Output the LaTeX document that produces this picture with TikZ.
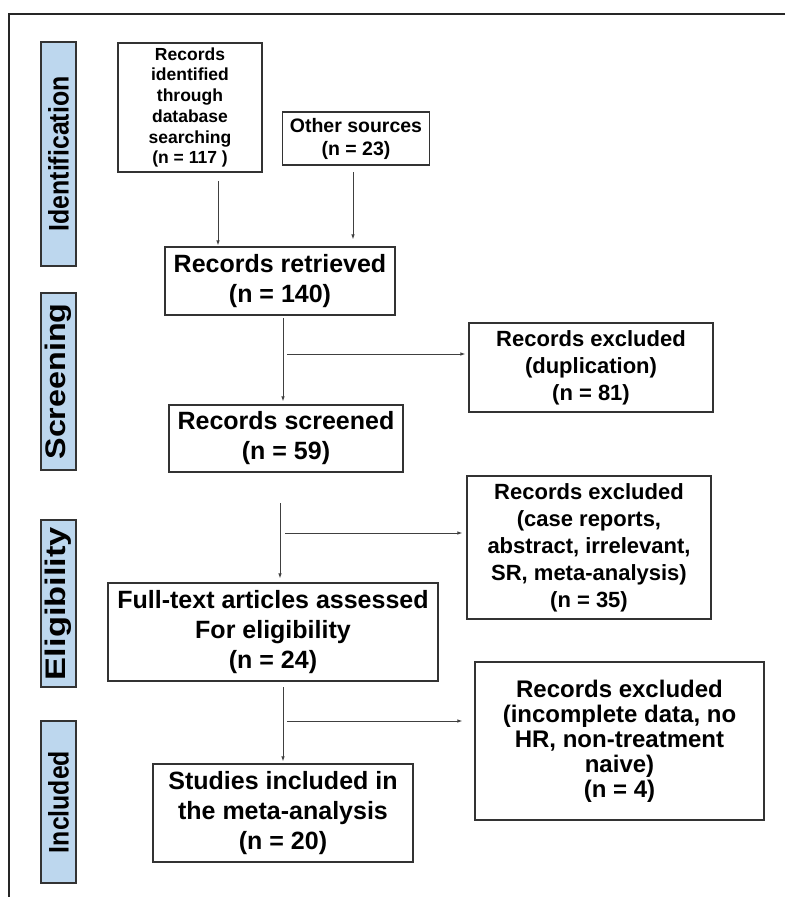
\documentclass[tikz,border=0pt]{standalone}
\usepackage{fontspec}
\setmainfont{Liberation Sans}
\usepackage{graphicx}
\usetikzlibrary{arrows.meta,calc}
\definecolor{barblue}{RGB}{189,215,238}
\newcommand{\barlabel}[2]{\resizebox{#1}{20.5pt}{#2}}
\tikzset{
  x=1pt, y=-1pt,
  flowbox/.style = {draw=black!80, line width=1.1pt, align=center, inner sep=0pt, text centered},
  txt_s/.style = {font=\bfseries\fontsize{17.5}{20.7}\selectfont},
  txt_m/.style = {font=\bfseries\fontsize{19.5}{23}\selectfont},
  txt_x/.style = {font=\bfseries\fontsize{22}{27}\selectfont},
  txt_l/.style = {font=\bfseries\fontsize{25}{30}\selectfont},
  txt_n/.style = {font=\bfseries\fontsize{24}{25}\selectfont},
  side_bar/.style = {draw=black!80, line width=1.1pt, fill=barblue, inner sep=0pt, minimum height=35pt, rotate=90, font=\bfseries},
  arr/.style = {-{Latex[length=5pt,width=3.5pt]}, line width=0.9pt, draw=black!75}
}

\begin{document}
\begin{tikzpicture}
	\useasboundingbox (0,0) rectangle (785,897);
	\draw[line width=1.2pt, black!85] (785,14) -- (9,14) -- (9,897);

	\node[side_bar, minimum width=224pt] (lab_id)  at (58.5,154)   {\barlabel{155pt}{Identification}};
	\node[side_bar, minimum width=177pt] (lab_scr) at (58.5,381.5) {\barlabel{156pt}{Screening}};
	\node[side_bar, minimum width=167pt] (lab_el)  at (58.5,603.5) {\barlabel{153pt}{Eligibility}};
	\node[side_bar, minimum width=162pt] (lab_in)  at (58.5,802)   {\barlabel{102pt}{Included}};

	\node[flowbox, txt_s, minimum width=144pt, minimum height=129pt] (db) at (190,107.5)
		{Records\\identified\\through\\database\\searching\\(n = 117 )};
	\node[flowbox, txt_m, minimum width=147pt, minimum height=53pt] (other) at (356,138.5)
		{Other sources\\(n = 23)};
	\node[flowbox, txt_l, minimum width=230pt, minimum height=68pt] (retr) at (280,281)
		{Records retrieved\\(n = 140)};
	\node[flowbox, txt_x, minimum width=244pt, minimum height=89pt] (excl_dup) at (591,367.5)
		{Records excluded\\(duplication)\\(n = 81)};
	\node[flowbox, txt_l, minimum width=234pt, minimum height=67pt] (scr) at (286,438.5)
		{Records screened\\(n = 59)};
	\node[flowbox, txt_x, minimum width=244pt, minimum height=143pt] (excl_case) at (589,547.5)
		{Records excluded\\(case reports,\\abstract, irrelevant,\\SR, meta-analysis)\\(n = 35)};
	\node[flowbox, txt_l, minimum width=330pt, minimum height=98pt] (full) at (273,632)
		{Full-text articles assessed\\For eligibility\\(n = 24)};
	\node[flowbox, txt_n, minimum width=289pt, minimum height=158pt] (excl_data) at (619.5,741)
		{Records excluded\\(incomplete data, no\\HR, non-treatment\\naive)\\(n = 4)};
	\node[flowbox, txt_l, minimum width=260pt, minimum height=98pt] (incl) at (283,813)
		{Studies included in\\the meta-analysis\\(n = 20)};

	\coordinate (s_db)    at (218,181);
	\coordinate (s_other) at (353,172);
	\coordinate (s_retr)  at (283,318);
	\coordinate (s_scr)   at (280,503);
	\coordinate (s_full)  at (283,687);
	\coordinate (b_dup)   at (287,354);
	\coordinate (b_case)  at (285,533);
	\coordinate (b_data)  at (287,721);

	\draw[arr, shorten >=1pt] (s_db) -- (s_db |- retr.north);
	\draw[arr, shorten >=7pt] (s_other) -- (s_other |- retr.north);
	\draw[arr, shorten >=3pt] (s_retr) -- (s_retr |- scr.north);
	\draw[arr, shorten >=4pt] (s_scr) -- (s_scr |- full.north);
	\draw[arr, shorten >=2pt] (s_full) -- (s_full |- incl.north);
	\draw[arr, shorten >=3pt] (b_dup) -- (b_dup -| excl_dup.west);
	\draw[arr, shorten >=4pt] (b_case) -- (b_case -| excl_case.west);
	\draw[arr, shorten >=12pt] (b_data) -- (b_data -| excl_data.west);
\end{tikzpicture}
\end{document}
